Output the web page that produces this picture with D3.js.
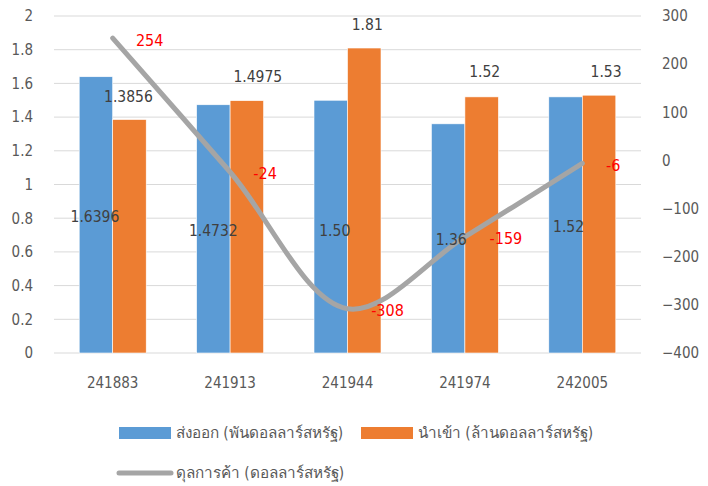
<!DOCTYPE html>
<html>
<head>
<meta charset="utf-8">
<script src="https://cdn.jsdelivr.net/npm/d3@7.9.0/dist/d3.min.js"></script>
<style>
  body { margin: 0; background: #fff; }
  svg text { font-family: Tahoma, "DejaVu Sans Condensed", "DejaVu Sans", sans-serif; fill: #595959; }
</style>
</head>
<body>
<svg id="chart" width="708" height="486"></svg>
<script>
const categories = ["241883", "241913", "241944", "241974", "242005"];
const exportVals = [1.6396, 1.4732, 1.50, 1.36, 1.52];
const importVals = [1.3856, 1.4975, 1.81, 1.52, 1.53];
const balanceVals = [254, -24, -308, -159, -6];
const exportLabels = ["1.6396", "1.4732", "1.50", "1.36", "1.52"];
const importLabels = ["1.3856", "1.4975", "1.81", "1.52", "1.53"];
const leftTicks = [0, 0.2, 0.4, 0.6, 0.8, 1, 1.2, 1.4, 1.6, 1.8, 2];
const rightTicks = [-400, -300, -200, -100, 0, 100, 200, 300];
const seriesNames = ["ส่งออก (พันดอลลาร์สหรัฐ)", "นำเข้า (ล้านดอลลาร์สหรัฐ)", "ดุลการค้า (ดอลลาร์สหรัฐ)"];

// labels were dragged around by hand in the original: nudges from the bar top / point
const exportLabelPos = [[-1, 141], [0, 127], [4, 131], [3, 117], [3, 131]];
const importLabelPos = [[-1, -22], [11, -23], [3, -23], [3, -24], [7, -23]];
const balanceLabelPos = [[37, 3], [35, 3], [40, 3], [41, 3], [31, 3]];

const svg = d3.select("#chart");
const margin = { left: 54, right: 67, top: 16, bottom: 133 };
const W = 708, H = 486;

const x = d3.scaleBand().domain(categories).range([margin.left, W - margin.right]);
const y = d3.scaleLinear().domain([0, 2]).range([H - margin.bottom, margin.top]);
const y2 = d3.scaleLinear().domain([-400, 300]).range([H - margin.bottom, margin.top]);
const xs = d3.scaleBand().domain(["exp", "imp"]).range([0, 67]);
const groupOffset = (x.bandwidth() - 67) / 2;

// grid
svg.append("g").selectAll("line").data(leftTicks).join("line")
  .attr("x1", margin.left).attr("x2", W - margin.right)
  .attr("y1", d => y(d)).attr("y2", d => y(d))
  .attr("stroke", "#D9D9D9").attr("stroke-width", 1);

// axes
const leftAxis = svg.append("g").attr("transform", `translate(${margin.left - 21},0)`)
  .call(d3.axisLeft(y).tickValues(leftTicks).tickSize(0).tickPadding(0).tickFormat(d3.format("~g")));
const rightAxis = svg.append("g").attr("transform", `translate(${W - margin.right + 21},0)`)
  .call(d3.axisRight(y2).tickValues(rightTicks).tickSize(0).tickPadding(0));
const bottomAxis = svg.append("g").attr("transform", `translate(0,${y(0) + 30})`)
  .call(d3.axisBottom(x).tickSize(0));
[leftAxis, rightAxis, bottomAxis].forEach(g => {
  g.select(".domain").remove();
  g.selectAll("text").attr("font-size", 15).attr("fill", "#595959");
});
bottomAxis.selectAll("text").attr("y", 0).attr("dy", "0.35em");

// bars
const groups = svg.append("g").selectAll("g").data(categories).join("g")
  .attr("transform", d => `translate(${x(d) + groupOffset},0)`);
groups.append("rect")
  .attr("x", xs("exp")).attr("width", xs.bandwidth())
  .attr("y", (d, i) => y(exportVals[i])).attr("height", (d, i) => y(0) - y(exportVals[i]))
  .attr("fill", "#5B9BD5").attr("stroke", "#fff").attr("stroke-width", 0.6);
groups.append("rect")
  .attr("x", xs("imp")).attr("width", xs.bandwidth())
  .attr("y", (d, i) => y(importVals[i])).attr("height", (d, i) => y(0) - y(importVals[i]))
  .attr("fill", "#ED7D31").attr("stroke", "#fff").attr("stroke-width", 0.6);

// balance line
const cx = c => x(c) + x.bandwidth() / 2;
const line = d3.line()
  .x((d, i) => cx(categories[i]))
  .y(d => y2(d))
  .curve(d3.curveCatmullRom.alpha(0.5));
svg.append("path").datum(balanceVals).attr("d", line)
  .attr("fill", "none").attr("stroke", "#A5A5A5").attr("stroke-width", 5)
  .attr("stroke-linecap", "round").attr("stroke-linejoin", "round");

// data labels
const labels = svg.append("g");
categories.forEach((c, i) => {
  const bx = x(c) + groupOffset;
  labels.append("text")
    .attr("x", bx + xs("exp") + xs.bandwidth() / 2 + exportLabelPos[i][0])
    .attr("y", y(exportVals[i]) + exportLabelPos[i][1])
    .attr("text-anchor", "middle").attr("dominant-baseline", "middle")
    .attr("font-size", 15.5).style("fill", "#404040")
    .text(exportLabels[i]);
  labels.append("text")
    .attr("x", bx + xs("imp") + xs.bandwidth() / 2 + importLabelPos[i][0])
    .attr("y", y(importVals[i]) + importLabelPos[i][1])
    .attr("text-anchor", "middle").attr("dominant-baseline", "middle")
    .attr("font-size", 15.5).style("fill", "#404040")
    .text(importLabels[i]);
  labels.append("text")
    .attr("x", cx(c) + balanceLabelPos[i][0])
    .attr("y", y2(balanceVals[i]) + balanceLabelPos[i][1])
    .attr("text-anchor", "middle").attr("dominant-baseline", "middle")
    .attr("font-size", 16).style("fill", "#FF0000")
    .text(balanceVals[i]);
});

// legend
const legend = svg.append("g");
const legendItems = [
  { x: 119, y: 433, kind: "rect", color: "#5B9BD5", name: seriesNames[0] },
  { x: 361, y: 433, kind: "rect", color: "#ED7D31", name: seriesNames[1] },
  { x: 119, y: 473, kind: "line", color: "#A5A5A5", name: seriesNames[2] }
];
legendItems.forEach(d => {
  if (d.kind === "rect") {
    legend.append("rect").attr("x", d.x).attr("y", d.y - 6).attr("width", 52).attr("height", 12).attr("fill", d.color);
  } else {
    legend.append("line").attr("x1", d.x).attr("x2", d.x + 52).attr("y1", d.y).attr("y2", d.y)
      .attr("stroke", d.color).attr("stroke-width", 5).attr("stroke-linecap", "round");
  }
  legend.append("text").attr("x", d.x + 57).attr("y", d.y).attr("dominant-baseline", "middle")
    .attr("font-size", 15.3).style("fill", "#595959").text(d.name);
});
</script>
</body>
</html>
